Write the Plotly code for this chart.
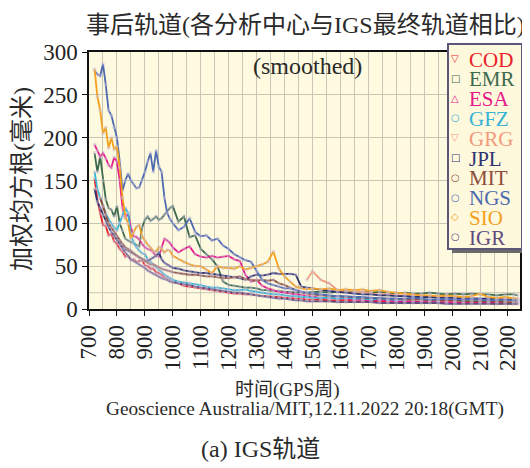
import plotly.graph_objects as go

# GPS weeks (sample points)
WEEKS = [720, 730, 740, 750, 760, 770, 780, 790, 800, 810, 820, 830, 840, 850, 860,
         870, 880, 890, 900, 910, 920, 930, 940, 950, 960, 970, 980, 990, 1000,
         1020, 1040, 1060, 1080, 1100, 1120, 1140, 1160, 1180, 1200, 1220, 1240, 1260,
         1280, 1300, 1320, 1340, 1360, 1380, 1400, 1420, 1440, 1460, 1480, 1500,
         1530, 1560, 1590, 1620, 1650, 1680, 1710, 1740, 1770, 1800, 1830, 1860,
         1890, 1920, 1950, 1980, 2010, 2040, 2070, 2100, 2130, 2160, 2190, 2220, 2235]

N = None
COD = [152, 128, 112, 98, 97, 86, 88, 79, 76, 70, 67, 61, 62, 57, 58, 55, 56, 57, 51, 50, 47, 47, 43, 42, 40, 37, 37, 34, 33,
       30, 27, 26, 25, 24, 23, 22, 21, 20, 19, 18, 18, 17, 17, 16, 15, 15, 14, 14, 13, 13, 12, 12, 11, 11,
       11, 10, 10, 10, 9, 9, 9, 9, 8, 8, 8, 8, 8, 8, 7, 7, 7, 7, 7, 7, 7, 6, 7, 6, 6]
EMR = [182, 160, 178, 150, 128, 118, 116, 108, 120, 100, 92, 82, 80, 78, 76, 74, 73, 95, 104, 108, 103, 105, 108, 104, 106, 110, 114, 118, 120,
       102, 108, 84, 86, 70, 64, 58, 50, 32, 28, 27, 26, 25, 25, 24, 22, 22, 21, 21, 20, 20, 19, 19, 19, 20,
       20, 19, 20, 21, 19, 20, 19, 20, 19, 18, 19, 18, 18, 19, 18, 17, 18, 17, 18, 17, 17, 16, 17, 17, 16]
ESA = [192, 185, 178, 182, 176, 168, 165, 177, 172, 150, 118, 106, 112, 95, 85, 84, 81, 76, 72, 70, 69, 66, 62, 61, 72, 82, 80, 77, 72,
       66, 70, 73, 64, 61, 60, 62, 60, 61, 62, 58, 56, 40, 32, 34, 27, 24, 22, 20, 19, 18, 17, 16, 15, 14,
       13, 13, 12, 12, 11, 11, 10, 10, 10, 9, 9, 9, 8, 8, 8, 8, 8, 7, 8, 7, 7, 7, 7, 7, 7]
GFZ = [160, 140, 130, 120, 112, 105, 100, 95, 92, 100, 108, 118, 112, 85, 78, 72, 68, 65, 64, 58, 55, 52, 48, 46, 43, 40, 38, 36, 34,
       32, 31, 30, 29, 28, 26, 25, 25, 24, 23, 22, 22, 23, 21, 20, 19, 18, 17, 17, 16, 15, 15, 14, 14, 13,
       13, 13, 12, 13, 12, 12, 11, 12, 11, 11, 11, 12, 11, 11, 10, 11, 10, 10, 11, 10, 10, 10, 11, 10, 10]
GRG = [N] * 29 + [N] * 23 + [34, 44,
       34, 30, 22, 20, 19, 20, 18, 17, 17, 16, 16, 15, 15, 14, 14, 14, 13, 13, 13, 12, 12, 12, 12, 11, 11]
JPL = [140, 125, 118, 110, 102, 96, 90, 86, 82, 78, 74, 70, 68, 66, 64, 62, 60, 58, 57, 56, 58, 60, 62, 66, 58, 54, 52, 50, 48,
       47, 45, 44, 43, 42, 42, 41, 40, 39, 38, 37, 36, 34, 38, 40, 39, 40, 42, 41, 41, 41, 40, 26, 25, 24,
       22, 21, 20, 19, 18, 17, 17, 16, 16, 15, 15, 14, 14, 14, 13, 13, 13, 12, 12, 12, 12, 11, 11, 11, 11]
MIT = [N, N, 130, 120, 110, 100, 95, 90, 85, 80, 76, 72, 70, 68, 65, 62, 60, 58, 56, 54, 52, 52, 50, 48, 47, 46, 45, 44, 43,
       42, 41, 40, 40, 39, 38, 38, 37, 36, 36, 37, 38, 35, 34, 33, 34, 33, 34, 30, 28, 25, 22, 20, 18, 17,
       16, 15, 15, 14, 14, 13, 13, 12, 12, 12, 11, 11, 11, 10, 10, 10, 10, 9, 9, 9, 9, 9, 8, 8, 8]
NGS = [278, 274, 272, 286, 262, 232, 226, 212, 200, 172, 138, 150, 158, 150, 146, 141, 142, 150, 160, 172, 182, 160, 185, 166, 160, 130, 112, 105, 100,
       92, 96, 106, 90, 85, 86, 80, 82, 74, 70, 64, 60, 57, 55, 44, 34, 30, 28, 26, 24, 24, 22, 20, 19, 18,
       17, 16, 15, 15, 14, 14, 13, 13, 12, 12, 12, 13, 12, 11, 11, 12, 11, 11, 12, 11, 10, 11, 11, 10, 10]
SIO = [280, 248, 232, 205, 212, 188, 200, 186, 190, 165, 130, 108, 100, 82, 90, 96, 98, 85, 80, 75, 72, 68, 67, 72, 70, 66, 69, 68, 62,
       58, 55, 52, 50, 50, 46, 42, 50, 48, 48, 47, 50, 46, 48, 50, 52, 55, 67, 47, 38, 32, 26, 24, 23, 24,
       23, 24, 22, 23, 22, 23, 21, 22, 20, 19, 18, 17, 16, 16, 15, 16, 15, 14, 15, 18, 14, 13, 14, 13, 12]
IGR = [N] * 6 + [90, 85, 80, 75, 70, 66, 62, 58, 56, 54, 52, 50, 48, 45, 43, 41, 40, 38, 36, 35, 34, 32, 31,
       30, 29, 28, 26, 25, 24, 23, 22, 21, 20, 19, 19, 18, 17, 16, 15, 14, 13, 12, 12, 11, 10, 10, 9, 9,
       9, 9, 8, 8, 8, 8, 8, 7, 7, 7, 7, 7, 7, 7, 7, 6, 6, 6, 6, 6, 6, 6, 6, 6, 6]

CENTERS = ["COD", "EMR", "ESA", "GFZ", "GRG", "JPL", "MIT", "NGS", "SIO", "IGR"]
SERIES = [COD, EMR, ESA, GFZ, GRG, JPL, MIT, NGS, SIO, IGR]
COLORS = ["#e8212b", "#3d6a4f", "#e6178a", "#35b3d6", "#f29a7c",
          "#2e3170", "#8c4c3a", "#4e6ab0", "#f5a01c", "#5f4b7d"]
SYMBOLS = ["▽", "□", "△", "○", "▽", "□", "○", "○", "◇", "○"]

X_TICKS = [700, 800, 900, 1000, 1100, 1200, 1300, 1400, 1500, 1600, 1700, 1800, 1900, 2000, 2100, 2200]
Y_TICKS = [0, 50, 100, 150, 200, 250, 300]

W, H = 530, 468
OFF = 8  # page body margin of the html page
# plot area in screen pixels: x 89..520, y 52..309
SL, SR, ST, SB = 89, 520, 52, 309
ML, MT = SL - OFF, ST - OFF
MR, MB = W - (SR - OFF), H - (SB - OFF)
PW, PH = SR - SL, SB - ST


def px(x):
    return (x - SL) / PW


def py(y):
    return (SB - y) / PH


SERIF = "Liberation Serif, Noto Sans CJK SC"

fig = go.Figure()
for name, vals, col in zip(CENTERS, SERIES, COLORS):
    fig.add_trace(go.Scatter(
        x=WEEKS, y=vals, name=name, mode="lines+markers",
        line=dict(color=col, width=1.8),
        marker=dict(symbol="circle", size=4, color="rgba(205,195,215,0.45)"),
        connectgaps=False, showlegend=False))

grid = "#c9c6b6"
fig.update_xaxes(range=[700, 2243], tickvals=X_TICKS, tickangle=-90,
                 showgrid=True, gridcolor=grid, gridwidth=1,
                 minor=dict(dtick=50, tick0=700, showgrid=True, gridcolor=grid, gridwidth=1),
                 showline=True, linecolor="#111", linewidth=1.5, mirror=True,
                 ticks="outside", ticklen=5, tickcolor="#111",
                 tickfont=dict(family=SERIF, size=23, color="#222"), zeroline=False)
fig.update_yaxes(range=[0, 300], tickvals=Y_TICKS,
                 showgrid=True, gridcolor=grid, gridwidth=1,
                 showline=True, linecolor="#111", linewidth=1.5, mirror=True,
                 ticks="outside", ticklen=5, tickcolor="#111",
                 tickfont=dict(family=SERIF, size=23, color="#222"), zeroline=False)

shapes = [
    dict(type="line", xref="paper", yref="y", x0=0, x1=1, y0=19, y1=19,
         line=dict(color=grid, width=1), layer="below"),
    # legend shadow and box
    dict(type="rect", xref="paper", yref="paper", x0=px(452), x1=px(527), y0=py(253), y1=py(48),
         fillcolor="#6a6a6a", line=dict(width=0), layer="above"),
    dict(type="rect", xref="paper", yref="paper", x0=px(448), x1=px(522), y0=py(249), y1=py(44),
         fillcolor="#fef8dc", line=dict(color="#5c5678", width=2), layer="above"),
]

ann = []
for i, (name, col, sym) in enumerate(zip(CENTERS, COLORS, SYMBOLS)):
    yc = 58.5 + i * 19.8
    ann.append(dict(x=px(455), y=py(yc), xref="paper", yref="paper", text=sym, showarrow=False,
                    xanchor="center", yanchor="middle", font=dict(family="DejaVu Sans", size=10, color=col)))
    ann.append(dict(x=px(467), y=py(yc + 1), xref="paper", yref="paper", text=name, showarrow=False,
                    xanchor="left", yanchor="middle", font=dict(family=SERIF, size=21, color=col)))

texts = [
    ("事后轨道(各分析中心与IGS最终轨道相比)", 305, 25, 24, 0),
    ("(smoothed)", 307, 66, 24, 0),
    ("时间(GPS周)", 287, 390, 19, 0),
    ("Geoscience Australia/MIT,12.11.2022 20:18(GMT)", 305, 409, 19.3, 0),
    ("(a) IGS轨道", 260, 449, 24, 0),
    ("加权均方根(毫米)", 22, 179, 24, -90),
]
for t, x, y, s, a in texts:
    ann.append(dict(x=px(x), y=py(y), xref="paper", yref="paper", text=t, showarrow=False,
                    xanchor="center", yanchor="middle", textangle=a,
                    font=dict(family=SERIF, size=s, color="#2a2a2a")))

fig.update_layout(width=W, height=H, margin=dict(l=ML, r=MR, t=MT, b=MB),
                  paper_bgcolor="white", plot_bgcolor="#fefadf",
                  shapes=shapes, annotations=ann, showlegend=False)

fig.write_html("out.html")
